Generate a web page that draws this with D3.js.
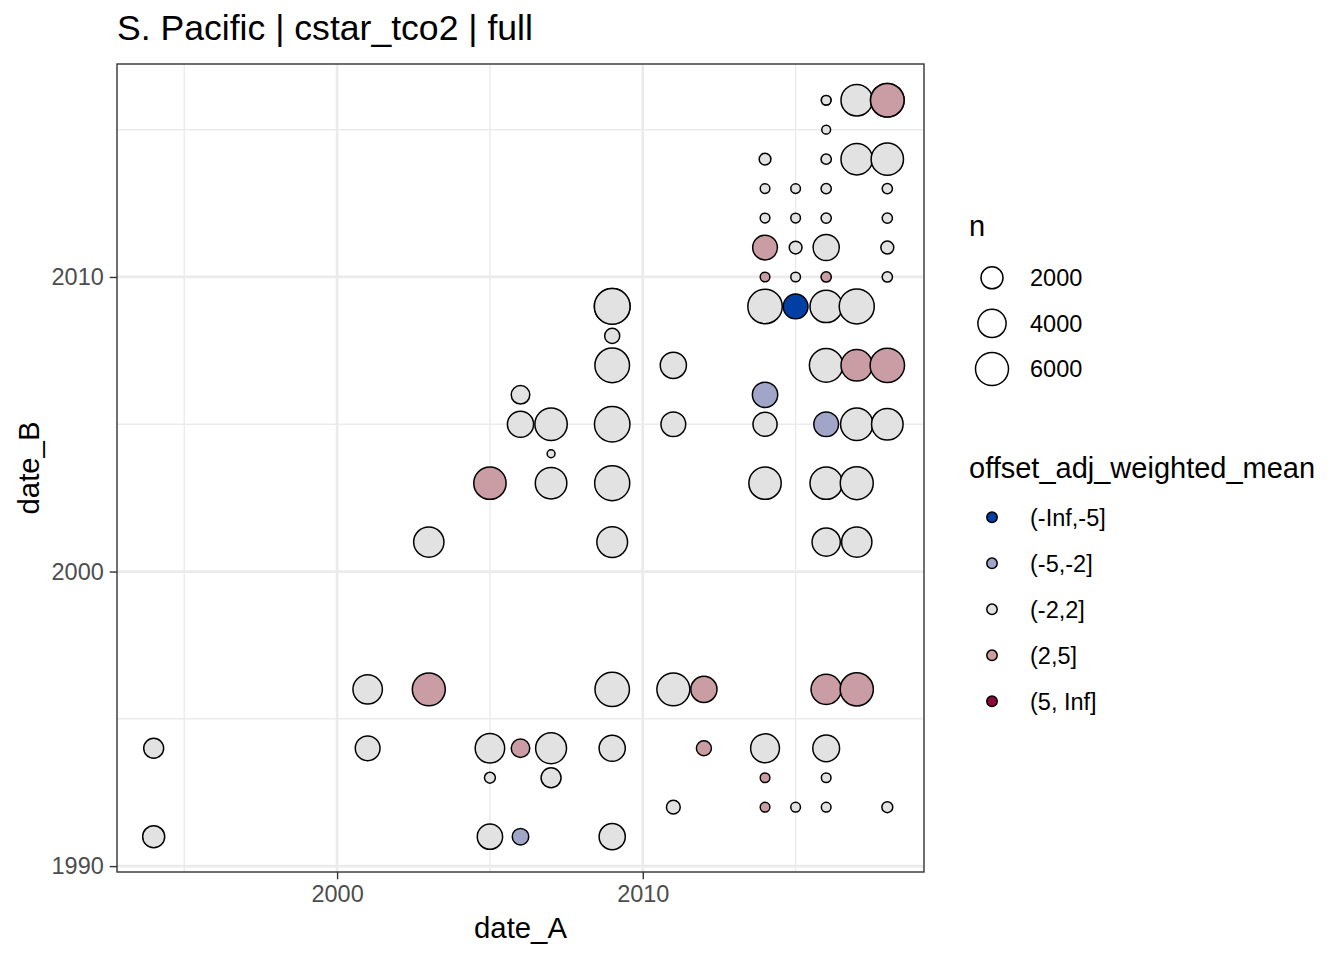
<!DOCTYPE html>
<html>
<head>
<meta charset="utf-8">
<script src="https://cdn.jsdelivr.net/npm/d3@7/dist/d3.min.js"></script>
<style>
    body { margin: 0; background: #fff; }
    text { font-family: "Liberation Sans", Arial, sans-serif; }
</style>
</head>
<body>
<div id="chart"></div>
<script>

// crossover pairs (year of cruise A / cruise B)
var dateA = [
    1994, 1994,
    2001, 2001,
    2003, 2003,
    2005, 2005, 2005, 2005,
    2006, 2006, 2006, 2006,
    2007, 2007, 2007, 2007, 2007,
    2009, 2009, 2009, 2009, 2009, 2009, 2009, 2009, 2009, 2009,
    2011, 2011, 2011, 2011,
    2012, 2012,
    2014, 2014, 2014, 2014, 2014, 2014, 2014, 2014, 2014, 2014, 2014, 2014,
    2015, 2015, 2015, 2015, 2015, 2015,
    2016, 2016, 2016, 2016, 2016, 2016, 2016, 2016, 2016, 2016, 2016, 2016, 2016, 2016, 2016, 2016, 2016,
    2017, 2017, 2017, 2017, 2017, 2017, 2017, 2017,
    2018, 2018, 2018, 2018, 2018, 2018, 2018, 2018, 2018, 2018
];
var dateB = [
    1991, 1994,
    1994, 1996,
    1996, 2001,
    1991, 1993, 1994, 2003,
    1991, 1994, 2005, 2006,
    1993, 1994, 2003, 2004, 2005,
    1991, 1994, 1996, 2001, 2003, 2005, 2007, 2008, 2009, 2009,
    1992, 1996, 2005, 2007,
    1994, 1996,
    1992, 1993, 1994, 2003, 2005, 2006, 2009, 2010, 2011, 2012, 2013, 2014,
    1992, 2009, 2010, 2011, 2012, 2013,
    1992, 1993, 1994, 1996, 2001, 2003, 2005, 2007, 2009, 2010, 2011, 2012, 2013, 2014, 2015, 2016, 2016,
    1996, 2001, 2003, 2005, 2007, 2009, 2014, 2016,
    1992, 2005, 2007, 2010, 2011, 2012, 2013, 2014, 2016, 2016
];
var nObs = [
    1997, 1483,
    2779, 4478,
    5993, 4813,
    2977, 129, 4478, 5707,
    785, 1169, 3252, 1169,
    1483, 5074, 5342, 5, 5707,
    3252, 3252, 6680, 5000, 7000, 7200, 6780, 562, 7297, 7297,
    400, 5993, 2779, 3252,
    562, 3252,
    59, 59, 4235, 5707, 2587, 2977, 6680, 59, 2779, 59, 59, 191,
    59, 2779, 59, 286, 59, 59,
    59, 59, 3467, 4800, 4000, 5707, 2779, 6280, 5707, 90, 3252, 90, 90, 90, 27, 59, 59,
    6100, 4813, 5993, 5707, 5342, 6985, 5342, 5342,
    129, 5342, 6680, 90, 307, 90, 90, 5707, 6280, 6280
];
var offsetBin = [
    "(-2,2]", "(-2,2]",
    "(-2,2]", "(-2,2]",
    "(2,5]", "(-2,2]",
    "(-2,2]", "(-2,2]", "(-2,2]", "(2,5]",
    "(-5,-2]", "(2,5]", "(-2,2]", "(-2,2]",
    "(-2,2]", "(-2,2]", "(-2,2]", "(-2,2]", "(-2,2]",
    "(-2,2]", "(-2,2]", "(-2,2]", "(-2,2]", "(-2,2]", "(-2,2]", "(-2,2]", "(-2,2]", "(-2,2]", "(-2,2]",
    "(-2,2]", "(-2,2]", "(-2,2]", "(-2,2]",
    "(2,5]", "(2,5]",
    "(2,5]", "(2,5]", "(-2,2]", "(-2,2]", "(-2,2]", "(-5,-2]", "(-2,2]", "(2,5]", "(2,5]", "(-2,2]", "(-2,2]", "(-2,2]",
    "(-2,2]", "(-Inf,-5]", "(-2,2]", "(-2,2]", "(-2,2]", "(-2,2]",
    "(-2,2]", "(-2,2]", "(-2,2]", "(2,5]", "(-2,2]", "(-2,2]", "(-5,-2]", "(-2,2]", "(-2,2]", "(2,5]", "(-2,2]", "(-2,2]", "(-2,2]", "(-2,2]", "(-2,2]", "(-2,2]", "(-2,2]",
    "(2,5]", "(-2,2]", "(-2,2]", "(-2,2]", "(2,5]", "(-2,2]", "(-2,2]", "(-2,2]",
    "(-2,2]", "(-2,2]", "(2,5]", "(-2,2]", "(-2,2]", "(-2,2]", "(-2,2]", "(-2,2]", "(-2,2]", "(2,5]"
];

var binLabels = ["(-Inf,-5]", "(-5,-2]", "(-2,2]", "(2,5]", "(5, Inf]"];
var sizeBreaks = [2000, 4000, 6000];
var xMajor = [2000, 2010];
var xMinor = [1995, 2005, 2015];
var yMajor = [1990, 2000, 2010];
var yMinor = [1995, 2005, 2015];

var chartTitle = "S. Pacific | cstar_tco2 | full";


CrossoverPlot = function(_parentElement){
    this.parentElement = _parentElement;
    this.initVis();
};


CrossoverPlot.prototype.initVis = function(){
    var vis = this;

    vis.width = 1344;
    vis.height = 960;

    // panel box in page pixels
    vis.panel = { left: 117, right: 924, top: 64, bottom: 872 };

    vis.svg = d3.select("#" + vis.parentElement).append("svg")
        .attr("width", vis.width)
        .attr("height", vis.height);

    vis.x = d3.scaleLinear()
        .domain([1992.8, 2019.2])
        .range([vis.panel.left, vis.panel.right]);

    vis.y = d3.scaleLinear()
        .domain([1989.8, 2017.23])
        .range([vis.panel.bottom, vis.panel.top]);

    // ggplot-like area scale: radius grows with sqrt(n)
    vis.r = d3.scaleSqrt()
        .domain([0, 6000])
        .range([3.55, 16.5]);

    vis.color = d3.scaleOrdinal()
        .domain(binLabels)
        .range(["#023FA5", "#A1A6C8", "#E2E2E2", "#CA9CA4", "#8E063B"]);

    vis.wrangleData();
};


CrossoverPlot.prototype.wrangleData = function(){
    var vis = this;

    vis.displayData = dateA.map(function(d, i){
        return { a: d, b: dateB[i], n: nObs[i], bin: offsetBin[i] };
    });

    // draw order like the data frame: by date_A, then date_B
    vis.displayData.sort(function(p, q){
        return (p.a - q.a) || (p.b - q.b);
    });

    vis.updateVis();
};


CrossoverPlot.prototype.updateVis = function(){
    var vis = this;
    var p = vis.panel;

    // grid
    var grid = vis.svg.append("g").attr("class", "grid");

    grid.selectAll(".xminor").data(xMinor).enter().append("line")
        .attr("x1", function(d){ return vis.x(d); })
        .attr("x2", function(d){ return vis.x(d); })
        .attr("y1", p.top).attr("y2", p.bottom)
        .attr("stroke", "#EBEBEB").attr("stroke-width", 1.4);
    grid.selectAll(".yminor").data(yMinor).enter().append("line")
        .attr("y1", function(d){ return vis.y(d); })
        .attr("y2", function(d){ return vis.y(d); })
        .attr("x1", p.left).attr("x2", p.right)
        .attr("stroke", "#EBEBEB").attr("stroke-width", 1.4);
    grid.selectAll(".xmajor").data(xMajor).enter().append("line")
        .attr("x1", function(d){ return vis.x(d); })
        .attr("x2", function(d){ return vis.x(d); })
        .attr("y1", p.top).attr("y2", p.bottom)
        .attr("stroke", "#EBEBEB").attr("stroke-width", 2.7);
    grid.selectAll(".ymajor").data(yMajor).enter().append("line")
        .attr("y1", function(d){ return vis.y(d); })
        .attr("y2", function(d){ return vis.y(d); })
        .attr("x1", p.left).attr("x2", p.right)
        .attr("stroke", "#EBEBEB").attr("stroke-width", 2.7);

    // points
    vis.svg.append("g").attr("class", "points")
        .selectAll("circle")
        .data(vis.displayData)
        .enter().append("circle")
        .attr("cx", function(d){ return vis.x(d.a); })
        .attr("cy", function(d){ return vis.y(d.b); })
        .attr("r", function(d){ return vis.r(d.n); })
        .attr("fill", function(d){ return vis.color(d.bin); })
        .attr("stroke", "#000")
        .attr("stroke-width", 1.5);

    // panel border
    vis.svg.append("rect")
        .attr("x", p.left).attr("y", p.top)
        .attr("width", p.right - p.left)
        .attr("height", p.bottom - p.top)
        .attr("fill", "none")
        .attr("stroke", "#333333")
        .attr("stroke-width", 1.4);

    // axes
    var xAxis = d3.axisBottom(vis.x).tickValues(xMajor)
        .tickSize(7.3).tickPadding(5.9).tickFormat(d3.format("d"));
    var yAxis = d3.axisLeft(vis.y).tickValues(yMajor)
        .tickSize(7.3).tickPadding(5.9).tickFormat(d3.format("d"));

    var gx = vis.svg.append("g")
        .attr("transform", "translate(0," + p.bottom + ")")
        .call(xAxis);
    var gy = vis.svg.append("g")
        .attr("transform", "translate(" + p.left + ",0)")
        .call(yAxis);

    [gx, gy].forEach(function(g){
        g.select(".domain").remove();
        g.selectAll(".tick line").attr("stroke", "#333333").attr("stroke-width", 1.4);
        g.selectAll(".tick text")
            .attr("fill", "#4D4D4D")
            .style("font-size", "23.5px")
            .style("font-family", "'Liberation Sans', Arial, sans-serif");
    });

    // titles
    vis.svg.append("text")
        .attr("x", p.left).attr("y", 40)
        .style("font-size", "35.6px")
        .text(chartTitle);

    vis.svg.append("text")
        .attr("x", (p.left + p.right) / 2).attr("y", 938)
        .attr("text-anchor", "middle")
        .style("font-size", "29.3px")
        .text("date_A");

    vis.svg.append("text")
        .attr("transform", "translate(39," + ((p.top + p.bottom) / 2) + ") rotate(-90)")
        .attr("text-anchor", "middle")
        .style("font-size", "29.3px")
        .text("date_B");

    // legend: n
    var keyX = 992, labelX = 1030;
    var lg = vis.svg.append("g").attr("class", "legend");

    lg.append("text")
        .attr("x", 969).attr("y", 235.5)
        .style("font-size", "29px")
        .text("n");

    var sizeKeys = lg.selectAll(".sizekey").data(sizeBreaks).enter().append("g")
        .attr("transform", function(d, i){ return "translate(0," + (277.8 + i * 45.6) + ")"; });
    sizeKeys.append("circle")
        .attr("cx", keyX).attr("cy", 0)
        .attr("r", function(d){ return vis.r(d); })
        .attr("fill", "#fff")
        .attr("stroke", "#000")
        .attr("stroke-width", 1.5);
    sizeKeys.append("text")
        .attr("x", labelX).attr("y", 8.4)
        .style("font-size", "23.5px")
        .text(function(d){ return d; });

    // legend: offset bins
    lg.append("text")
        .attr("x", 969).attr("y", 478)
        .style("font-size", "29px")
        .text("offset_adj_weighted_mean");

    var colorKeys = lg.selectAll(".colorkey").data(binLabels).enter().append("g")
        .attr("transform", function(d, i){ return "translate(0," + (517.3 + i * 46) + ")"; });
    colorKeys.append("circle")
        .attr("cx", keyX).attr("cy", 0)
        .attr("r", 5.2)
        .attr("fill", function(d){ return vis.color(d); })
        .attr("stroke", "#000")
        .attr("stroke-width", 1.5);
    colorKeys.append("text")
        .attr("x", labelX).attr("y", 8.4)
        .style("font-size", "23.5px")
        .text(function(d){ return d; });
};


var plot = new CrossoverPlot("chart");

</script>
</body>
</html>
